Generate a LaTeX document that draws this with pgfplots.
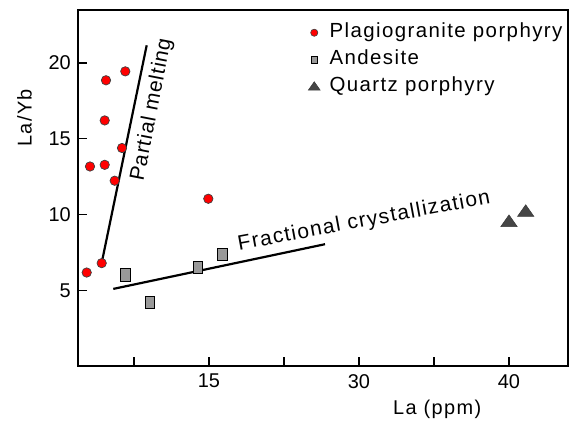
\documentclass[border=0pt]{standalone}
\usepackage{fontspec}
\setmainfont{Liberation Sans}
\newfontfamily\lsA{Liberation Sans}[LetterSpace=7]
\newfontfamily\lsB{Liberation Sans}[LetterSpace=6.5]
\newfontfamily\lsC{Liberation Sans}[LetterSpace=4.5]
\usepackage{pgfplots}
\pgfplotsset{compat=1.18}
\definecolor{andgray}{HTML}{999999}
\definecolor{qzgray}{HTML}{454545}
\begin{document}
\begin{tikzpicture}
\useasboundingbox (-78bp,-56bp) rectangle (496bp,366bp);
\begin{axis}[
  at={(0,0)}, anchor=south west,
  scale only axis, width=490bp, height=356bp,
  xmin=1.9, xmax=50.9, ymin=0, ymax=23.5,
  axis line style={line width=1.6bp},
  tick style={line width=1.4bp, black},
  tick align=inside,
  major tick length=9bp,
  xtick={7.5,15,22.5,30,37.5,45},
  xticklabels={,15,,30,,40},
  ytick={5,10,15,20},
  yticklabels={5,10,15,20},
  xtick pos=bottom, ytick pos=left,
  tick label style={font=\fontsize{20}{22}\selectfont},
  yticklabel style={anchor=east, inner sep=0pt, xshift=-7bp},
  xticklabel style={anchor=north, inner sep=0pt, yshift=-8bp},
  xlabel={La (ppm)},
  ylabel={La/Yb},
  label style={font=\lsA\fontsize{20}{22}\selectfont},
  xlabel style={at={(axis description cs:0.733,-0.121)}, anchor=center, inner sep=0pt},
  ylabel style={at={(axis description cs:-0.109,0.697)}, anchor=center, rotate=0, inner sep=0pt},
  legend style={at={(axis description cs:0.469,0.962)}, anchor=north west,
    draw=none, fill=none, inner sep=0pt, row sep=9bp,
    font=\lsA\fontsize{20.5}{22}\selectfont,
    nodes={text height=14bp, text depth=4bp, inner sep=0pt}},
  legend cell align=left,
  clip=false,
]
\addplot[only marks, mark=*, mark size=4.7bp,
  mark options={fill=red, draw=black!75, line width=0.7bp},
  legend image code/.code={\draw[fill=red,draw=black!75,line width=0.6bp] (0.12cm,0) circle (3.6bp);}]
  coordinates {(4.70,18.86) (6.63,19.45) (4.57,16.21) (6.30,14.39) (3.10,13.17)
               (4.57,13.28) (5.57,12.23) (14.93,11.04) (4.27,6.79) (2.77,6.17)};
\addlegendentry{\hspace{9bp}Plagiogranite porphyry}
\addplot[only marks, mark=square*, mark size=6.1bp,
  mark options={fill=andgray, draw=black, line width=0.8bp, xscale=0.76},
  legend image code/.code={\draw[fill=andgray,draw=black,line width=0.6bp] (0.12cm-3bp,-3.6bp) rectangle (0.12cm+3bp,3.6bp);}]
  coordinates {(6.63,6.01) (9.07,4.21) (13.90,6.52) (16.33,7.38)};
\addlegendentry{\hspace{9bp}Andesite}
\addplot[only marks, mark=triangle*, mark size=9.5bp,
  mark options={fill=qzgray, draw=qzgray!80!black, line width=0.5bp, yscale=0.82},
  legend image code/.code={\draw[fill=qzgray,draw=qzgray!80!black,line width=0.5bp] (0.12cm-6bp,-3.5bp) -- (0.12cm+6bp,-3.5bp) -- (0.12cm,5bp) -- cycle;}]
  coordinates {(45.00,9.46) (46.67,10.13)};
\addlegendentry{\hspace{9bp}Quartz porphyry}
\addplot[black, line width=2.2bp, forget plot] coordinates {(4.33,7.00) (8.77,21.17)};
\addplot[black, line width=2.2bp, forget plot] coordinates {(5.43,5.09) (26.60,8.04)};
\node[rotate=79, font=\lsC\fontsize{21}{23}\selectfont, inner sep=0pt] at (axis cs:9.3,16.92) {Partial melting};
\node[rotate=10.5, font=\lsB\fontsize{21}{23}\selectfont, inner sep=0pt] at (axis cs:30.5,9.54) {Fractional crystallization};
\end{axis}
\end{tikzpicture}
\end{document}
